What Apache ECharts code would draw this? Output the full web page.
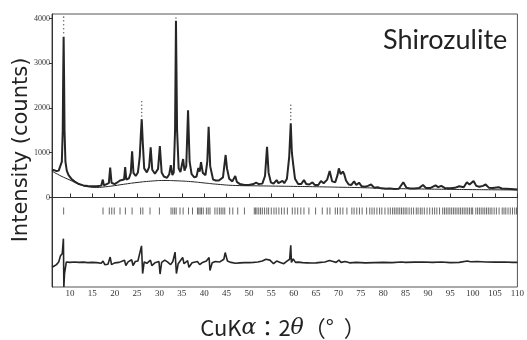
<!DOCTYPE html>
<html>
<head>
<meta charset="utf-8">
<script src="https://cdn.jsdelivr.net/npm/echarts@6/dist/echarts.min.js"></script>
<style>
  html, body { margin: 0; padding: 0; background: #fff; }
  #chart { width: 527px; height: 340px; }
</style>
</head>
<body>
<div id="chart"></div>
<script>
// Powder X-ray diffraction pattern of shirozulite (Rietveld refinement plot)

// Observed profile: 2θ (deg) and intensity (counts)
const obsAngle = [
  6.0, 6.5, 7.0, 7.5, 7.9, 8.2, 8.4, 8.5, 8.6, 8.7, 8.8, 9.0, 9.3, 9.7, 10.3, 11.0, 12.0, 13.0, 14.0, 15.0,
  16.0, 17.0, 17.35, 17.6, 18.0, 18.7, 19.0, 19.3, 20.0, 20.5, 21.2, 21.6, 22.1, 22.35, 22.6, 23.2, 23.6, 23.9, 24.2, 24.7,
  25.2, 25.6, 25.85, 26.05, 26.3, 26.6, 27.2, 27.7, 28.05, 28.4, 29.0, 29.7, 30.1, 30.5, 31.0, 31.7, 32.2, 32.55, 32.9, 33.2,
  33.5, 33.7, 33.95, 34.3, 34.7, 35.3, 35.6, 36.0, 36.4, 36.75, 37.2, 37.8, 38.3, 38.7, 39.0, 39.3, 39.7, 40.3, 40.7, 41.0,
  41.35, 42.0, 42.6, 43.3, 44.2, 44.5, 44.8, 45.1, 45.6, 46.3, 46.95, 47.3, 48.0, 49.0, 50.0, 51.0, 51.6, 52.2, 53.0, 53.6,
  54.05, 54.4, 54.9, 55.5, 56.2, 56.6, 57.0, 57.5, 57.9, 58.5, 59.0, 59.35, 59.6, 59.9, 60.3, 61.0, 61.7, 62.3, 62.8, 63.5,
  64.2, 64.7, 65.5, 66.1, 66.7, 67.5, 68.05, 68.6, 69.3, 69.8, 70.1, 70.5, 71.0, 71.3, 71.7, 72.3, 72.9, 73.5, 74.0, 74.6,
  75.2, 76.0, 76.6, 77.3, 78.0, 78.8, 79.5, 80.5, 81.5, 82.5, 83.5, 84.5, 85.2, 86.0, 87.0, 88.0, 88.9, 89.6, 90.5, 91.7,
  92.3, 93.0, 93.8, 95.0, 96.0, 97.0, 98.0, 98.7, 99.3, 100.2, 100.8, 101.5, 102.3, 102.9, 103.6, 104.5, 105.8, 106.5, 107.5, 108.5,
  109.3, 110.0
];
const obsCounts = [
  620, 610, 590, 600, 640, 800, 1500, 2700, 3590, 2700, 1500, 800, 600, 500, 420, 360, 300, 270, 255, 250,
  250, 265, 400, 270, 260, 320, 670, 330, 300, 330, 380, 340, 400, 680, 400, 430, 550, 1030, 550, 480,
  560, 900, 1400, 1750, 1200, 650, 560, 680, 1120, 620, 530, 640, 1150, 560, 470, 440, 520, 720, 500, 560,
  1500, 3950, 1500, 650, 570, 860, 600, 700, 1950, 800, 520, 450, 470, 660, 580, 790, 550, 500, 800, 1580,
  700, 400, 380, 380, 450, 700, 950, 650, 420, 360, 480, 350, 300, 280, 280, 300, 330, 300, 310, 480,
  1130, 550, 340, 310, 390, 320, 300, 370, 320, 420, 900, 1660, 1000, 740, 420, 300, 300, 390, 300, 290,
  340, 280, 280, 370, 320, 400, 590, 360, 340, 500, 650, 520, 580, 520, 380, 290, 280, 360, 280, 330,
  250, 240, 260, 290, 220, 230, 205, 195, 200, 190, 195, 340, 220, 200, 200, 210, 280, 210, 210, 270,
  230, 260, 210, 205, 215, 250, 230, 340, 290, 370, 260, 240, 260, 290, 220, 210, 230, 200, 195, 190,
  185, 178
];

// Observed points lying above the solid profile at the strongest reflections
const topAngle  = [8.6, 8.6, 8.6, 8.6, 8.6, 26.05, 26.05, 26.05, 26.05, 26.05, 33.7, 59.35, 59.35, 59.35, 59.35, 59.35];
const topCounts = [3680, 3770, 3860, 3950, 4030, 1820, 1900, 1980, 2060, 2140, 4010, 1740, 1820, 1900, 1980, 2060];

// Refined background
const bgAngle  = [6, 8, 10, 12, 14, 16, 18, 20, 22, 25, 28, 31, 34, 37, 40, 43, 47, 52, 56, 60, 65, 70, 75, 80, 85, 90, 95, 100, 105, 110];
const bgCounts = [590, 480, 390, 300, 240, 225, 240, 265, 295, 335, 365, 380, 372, 355, 325, 295, 268, 260, 254, 248, 240, 230, 220, 205, 195, 188, 182, 176, 172, 168];

// Bragg reflection positions (2θ, deg)
const braggAngle = [
  8.6, 17.4, 18.8, 19.35, 19.9, 21.2, 22.4, 23.9, 25.8, 26.3, 27.9, 30.0, 32.6, 33.0, 33.4, 33.75, 34.6, 35.3, 36.5, 37.4,
  38.5, 38.8, 39.1, 39.4, 39.8, 40.5, 40.9, 41.3, 42.4, 42.9, 43.4, 43.8, 44.2, 44.6, 45.7, 46.4, 47.5, 49.0, 51.2, 51.5,
  51.8, 52.2, 52.6, 53.0, 53.5, 54.0, 54.4, 55.0, 55.6, 56.1, 56.7, 57.3, 57.9, 58.6, 59.7, 60.3, 60.9, 61.6, 62.3, 63.4,
  64.9, 66.4, 67.5, 68.1, 69.3, 69.8, 70.4, 71.0, 71.9, 73.0, 73.5, 74.1, 74.7, 75.3, 76.3, 77.0, 77.5, 78.0, 78.6, 79.2,
  79.7, 80.4, 81.1, 81.6, 82.1, 82.5, 82.9, 83.3, 83.7, 84.1, 84.5, 84.9, 85.3, 85.8, 86.3, 86.8, 87.4, 87.8, 88.3, 88.7,
  89.2, 89.8, 90.4, 91.0, 91.5, 92.0, 92.6, 93.3, 93.7, 94.1, 94.5, 94.9, 95.3, 95.7, 96.1, 96.5, 96.9, 97.3, 97.7, 98.1,
  98.5, 98.9, 99.3, 99.7, 100.0, 100.7, 101.1, 101.5, 101.9, 102.3, 102.7, 103.1, 103.5, 103.9, 104.3, 104.8, 105.3, 105.9, 106.6, 107.0,
  107.4, 107.9, 108.4, 108.9, 109.4, 109.8
];
const braggLevel = -300;

// Difference curve (observed - calculated), plotted with an offset below zero
const diffAngle = [
  6.0, 6.5, 7.0, 7.5, 7.9, 8.3, 8.55, 8.65, 8.8, 9.2, 10, 11, 12, 13, 14, 15, 16, 17, 17.4, 17.8,
  18.5, 19.0, 19.3, 20, 21, 22.2, 22.5, 23, 23.8, 24.1, 24.6, 25.2, 26.0, 26.25, 26.6, 27.2, 28.0, 28.3, 29, 29.9,
  30.15, 30.5, 31.2, 31.8, 32.5, 33.0, 33.5, 33.8, 34.2, 35.2, 35.5, 36.3, 36.6, 37.3, 38.5, 39.0, 39.5, 40.5, 41.1, 41.3,
  41.8, 42.5, 43.5, 44.4, 44.7, 45.2, 46, 47, 48, 49, 50, 51, 52, 53, 53.8, 54.2, 54.7, 55.5, 56.2, 57,
  57.8, 58.5, 59.1, 59.35, 59.5, 59.9, 60.4, 61, 62, 63, 64, 65, 66, 67, 68, 68.8, 69.5, 70.1, 70.6, 71.5,
  72.5, 74, 76, 78, 80, 82, 84, 85, 87, 89, 91, 93, 95, 97, 98.8, 99.5, 101, 103, 105, 107,
  109, 110
];
const diffCounts = [
  -1560, -1530, -1500, -1440, -1300, -1250, -920, -2000, -1700, -1440, -1450, -1440, -1450, -1445, -1455, -1450, -1455, -1470, -1420, -1500,
  -1490, -1330, -1500, -1460, -1450, -1400, -1520, -1440, -1390, -1520, -1430, -1420, -1080, -1700, -1440, -1470, -1400, -1520, -1460, -1430,
  -1710, -1450, -1400, -1440, -1500, -1430, -1220, -1700, -1480, -1340, -1480, -1410, -1560, -1460, -1430, -1500, -1460, -1420, -1340, -1630,
  -1460, -1430, -1440, -1380, -1230, -1420, -1450, -1470, -1460, -1455, -1455, -1450, -1440, -1420, -1380, -1420, -1400, -1480, -1420, -1450,
  -1480, -1420, -1380, -1070, -1450, -1370, -1450, -1445, -1455, -1460, -1465, -1460, -1450, -1440, -1410, -1430, -1450, -1400, -1450, -1430,
  -1460, -1450, -1460, -1455, -1450, -1455, -1440, -1450, -1445, -1440, -1450, -1440, -1455, -1450, -1420, -1435, -1430, -1440, -1445, -1440,
  -1450, -1450
];

// Axis tick values
const xTicks = [10, 15, 20, 25, 30, 35, 40, 45, 50, 55, 60, 65, 70, 75, 80, 85, 90, 95, 100, 105, 110];
const yTicks = [0, 1000, 2000, 3000, 4000];

const zip = (a, b) => a.map((v, i) => [v, b[i]]);

const chart = echarts.init(document.getElementById('chart'), null, { renderer: 'canvas' });
const ink = '#262626';
const serif = '"Liberation Serif", "DejaVu Serif", serif';

chart.setOption({
  animation: false,
  backgroundColor: '#ffffff',
  grid: {
    left: 52, right: 5, top: 14, bottom: 53,
    show: true, borderColor: '#555', borderWidth: 1
  },
  xAxis: {
    type: 'value', min: 6, max: 110,
    axisLine: { show: true, lineStyle: { color: '#333', width: 1 } },
    axisTick: { show: true, inside: true, length: 4, customValues: xTicks, lineStyle: { color: '#333' } },
    axisLabel: { customValues: xTicks, formatter: v => String(v), fontFamily: serif, fontSize: 9, color: '#333', margin: 2 },
    splitLine: { show: false }
  },
  yAxis: {
    type: 'value', min: -2000, max: 4100,
    axisLine: { show: true, lineStyle: { color: '#333', width: 1 } },
    axisTick: { show: true, inside: false, length: 3, customValues: yTicks, lineStyle: { color: '#333' } },
    axisLabel: { customValues: yTicks, formatter: v => String(v), fontFamily: serif, fontSize: 8, color: '#333', margin: 2 },
    splitLine: { show: false }
  },
  graphic: [
    {
      type: 'text', left: 383, top: 27,
      style: { text: 'Shirozulite', font: '27px Lato, "Open Sans", sans-serif', fill: '#222' }
    },
    {
      type: 'text', x: 22, y: 150, rotation: Math.PI / 2,
      style: {
        text: 'Intensity (counts)', font: '21px "DejaVu Sans", sans-serif', fill: '#222',
        align: 'center', verticalAlign: 'middle'
      }
    },
    {
      type: 'text', x: 283, y: 328,
      style: {
        text: '{s|CuK}{g|α}{s|：2}{g|θ}{s|（°  ）}',
        align: 'center', verticalAlign: 'middle',
        rich: {
          s: { font: '22px "Noto Sans CJK JP", "DejaVu Sans", sans-serif', fill: '#222' },
          g: { font: 'italic 22px "DejaVu Serif", serif', fill: '#222' }
        }
      }
    }
  ],
  series: [
    {
      name: 'background', type: 'line', data: zip(bgAngle, bgCounts),
      smooth: true, symbol: 'none', silent: true,
      lineStyle: { color: '#222', width: 1 }, z: 2
    },
    {
      name: 'observed', type: 'line', data: zip(obsAngle, obsCounts),
      symbol: 'none', silent: true,
      lineStyle: { color: ink, width: 2 }, z: 3
    },
    {
      name: 'observed (peak tops)', type: 'scatter', data: zip(topAngle, topCounts),
      symbol: 'circle', symbolSize: 1.6, silent: true,
      itemStyle: { color: '#444' }, z: 3
    },
    {
      name: 'reflections', type: 'scatter',
      data: braggAngle.map(a => [a, braggLevel]),
      symbol: 'rect', symbolSize: [1, 7], silent: true,
      itemStyle: { color: '#444' }, z: 2
    },
    {
      name: 'difference', type: 'line', data: zip(diffAngle, diffCounts),
      symbol: 'none', silent: true,
      lineStyle: { color: ink, width: 1.6 }, z: 3
    }
  ]
});
</script>
</body>
</html>
